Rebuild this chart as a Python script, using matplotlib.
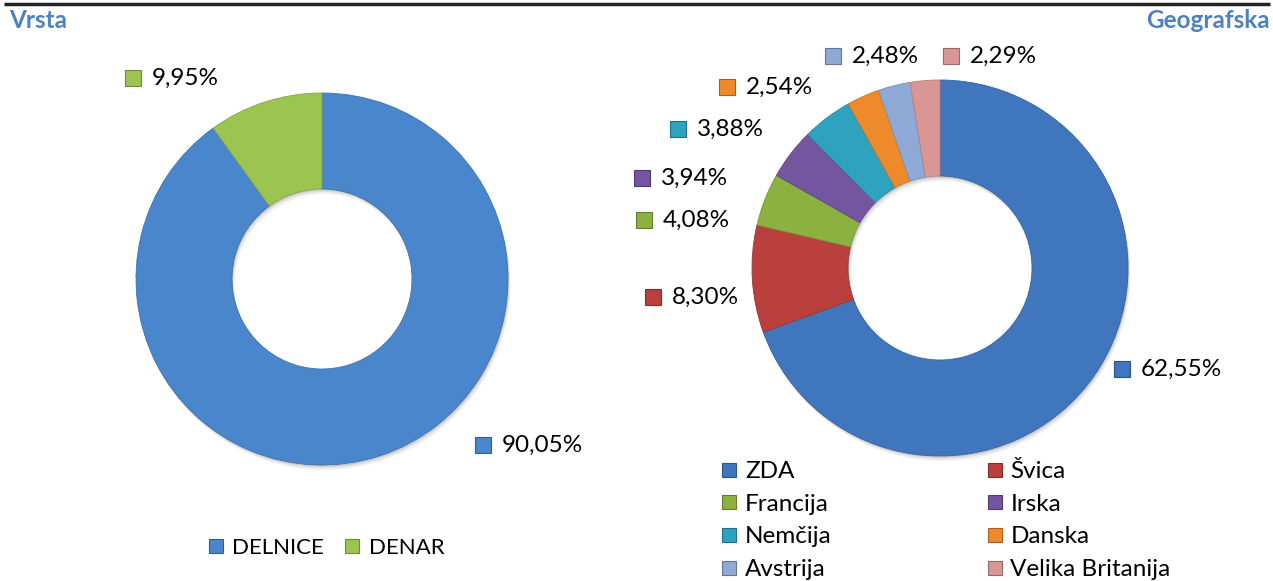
import numpy as np
import matplotlib.pyplot as plt
from matplotlib.lines import Line2D

plt.rcParams['font.family'] = ['Lato', 'DejaVu Sans']

W, H = 1273, 581

# data
vrsta_names = ['DELNICE', 'DENAR']
vrsta_values = [90.05, 9.95]
vrsta_colors = ['#4A86CC', '#9BC451']

geo_names = ['ZDA', 'Švica', 'Francija', 'Irska', 'Nemčija', 'Danska',
             'Avstrija', 'Velika Britanija']
geo_values = [62.55, 8.30, 4.08, 3.94, 3.88, 2.54, 2.48, 2.29]
geo_colors = ['#3F76BE', '#B9403C', '#8DB140', '#7455A0', '#2EA2BF',
              '#EE8A2C', '#8EA9D6', '#D99694']

# label layout (marker x, y in pixels from top)
vrsta_label_pos = [(483, 445), (133, 78)]
geo_label_pos = [(1122, 369), (653, 297), (644, 220), (642, 178),
                 (678, 129), (727, 87), (833, 56), (951, 56)]


def darker(c, f=0.7):
    r, g, b = plt.matplotlib.colors.to_rgb(c)
    return (r * f, g * f, b * f)


def fmt(v):
    return ('%.2f%%' % v).replace('.', ',')


def donut(ax, values, colors, cx, cy, r, hole):
    # soft shadow
    for k, a in [(5, 0.06), (3, 0.08), (1.5, 0.10)]:
        ax.pie([1], colors=['#000000'], center=(cx + k * 0.5, H - cy - k),
               radius=r, wedgeprops=dict(width=r - hole, linewidth=0,
                                         alpha=a))
    wedges, _ = ax.pie(values, colors=colors, center=(cx, H - cy), radius=r,
                       startangle=90, counterclock=False,
                       wedgeprops=dict(width=r - hole, linewidth=0.6))
    for w, c in zip(wedges, colors):
        w.set_edgecolor(darker(c, 0.85))
    return wedges


def labels(ax, values, colors, positions):
    for v, c, (x, y) in zip(values, colors, positions):
        ax.plot(x, H - y, marker='s', markersize=11, color=c,
                markeredgecolor=darker(c), markeredgewidth=0.8)
        ax.text(x + 19, H - y, fmt(v), fontsize=17.5, va='center', ha='left',
                color='black')


fig = plt.figure(figsize=(W / 100, H / 100), dpi=100)
ax = fig.add_axes([0, 0, 1, 1])

donut(ax, vrsta_values, vrsta_colors, 322, 279, 186, 90)
donut(ax, geo_values, geo_colors, 940, 268, 188, 92)
labels(ax, vrsta_values, vrsta_colors, vrsta_label_pos)
labels(ax, geo_values, geo_colors, geo_label_pos)

ax.set_xlim(0, W)
ax.set_ylim(0, H)
ax.set_aspect('equal')
ax.axis('off')

# top rule and titles
ax.plot([4, W - 3], [H - 4, H - 4], color='#222222', lw=2.5,
        solid_capstyle='butt')
ax.text(9, H - 20, 'Vrsta', fontsize=17.5, fontweight='bold', color='#4F81BD',
        va='center', ha='left')
ax.text(W - 3, H - 20, 'Geografska', fontsize=17.5, fontweight='bold',
        color='#4F81BD', va='center', ha='right')

# legends
h1 = [Line2D([], [], marker='s', ls='none', markersize=10, color=c,
             markeredgecolor=darker(c), markeredgewidth=0.8)
      for c in vrsta_colors]
leg1 = ax.legend(h1, vrsta_names, loc='center left',
                 bbox_to_anchor=(208 / W, 1 - 548 / H), ncol=2, frameon=False,
                 fontsize=16, handlelength=0.7, handletextpad=0.4,
                 columnspacing=0.9, borderpad=0, borderaxespad=0)
ax.add_artist(leg1)

h2 = [Line2D([], [], marker='s', ls='none', markersize=10, color=c,
             markeredgecolor=darker(c), markeredgewidth=0.8)
      for c in geo_colors]
# row-major order like the original legend
order = [0, 2, 4, 6, 1, 3, 5, 7]
ax.legend([h2[i] for i in order], [geo_names[i] for i in order],
          loc='upper left', bbox_to_anchor=(722 / W, 1 - 461 / H), ncol=2,
          frameon=False, fontsize=17.5, handlelength=0.6, handletextpad=0.35,
          columnspacing=6.4, labelspacing=0.48, borderpad=0,
          borderaxespad=0)

fig.savefig('out.png', dpi=100)
